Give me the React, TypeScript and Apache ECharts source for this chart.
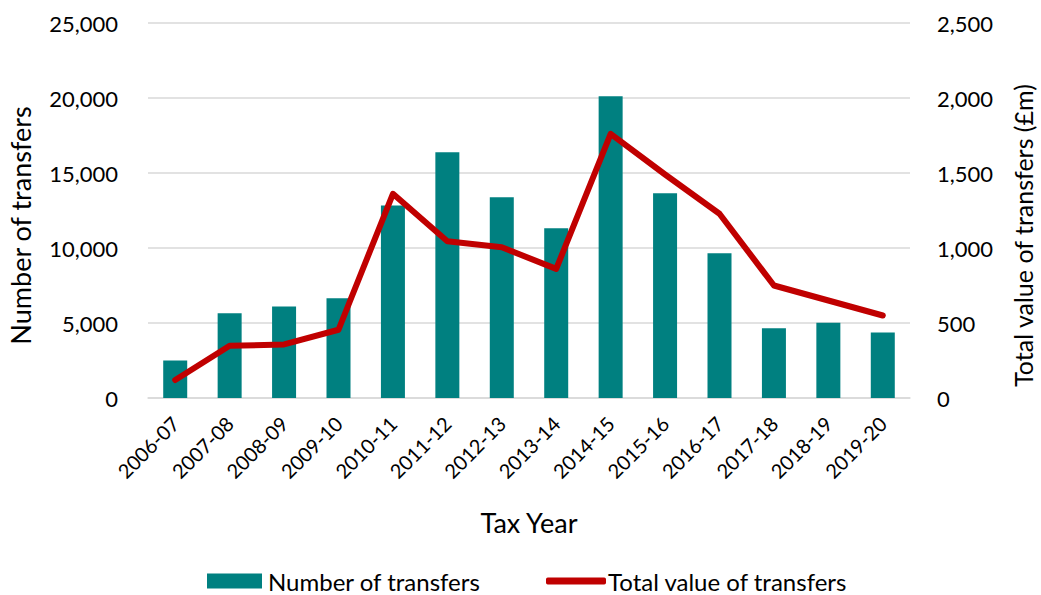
import React, { useEffect, useRef } from "react";
import * as echarts from "echarts";

const categories = ["2006-07","2007-08","2008-09","2009-10","2010-11","2011-12","2012-13","2013-14","2014-15","2015-16","2016-17","2017-18","2018-19","2019-20"];
const numberOfTransfers = [2500, 5650, 6100, 6650, 12830, 16390, 13390, 11320, 20120, 13650, 9650, 4650, 5010, 4370];
const totalValue = [120, 348, 357, 455, 1361, 1045, 1005, 861, 1761, 1490, 1228, 750, 650, 550];
const FONT = "Lato, 'Open Sans', sans-serif";

const fmt = (v: number) => v.toLocaleString("en-GB");

export default function App() {
  const ref = useRef<HTMLDivElement>(null);
  useEffect(() => {
    const chart = echarts.init(ref.current!, undefined, { renderer: "svg" });
    chart.setOption({
      animation: false,
      textStyle: { fontFamily: FONT },
      grid: { left: 148, right: 131, top: 23, bottom: 197, containLabel: false, outerBoundsMode: "none" },
      legend: [
        {
          left: 202,
          top: 563,
          itemWidth: 55,
          itemHeight: 15,
          itemGap: 0,
          textStyle: { fontSize: 24, lineHeight: 26, color: "#000", fontFamily: FONT, padding: [0, 0, 0, 1] },
          data: [{ name: "Number of transfers", icon: "rect" }],
        },
        {
          left: 541,
          top: 563,
          itemWidth: 60,
          itemHeight: 7,
          itemGap: 0,
          textStyle: { fontSize: 24, lineHeight: 26, color: "#000", fontFamily: FONT, padding: [0, 0, 0, -3] },
          data: [{ name: "Total value of transfers", icon: "roundRect" }],
        },
      ],
      xAxis: {
        type: "category",
        data: categories,
        name: "Tax Year",
        nameLocation: "middle",
        nameGap: 111,
        nameTextStyle: { fontSize: 27, color: "#000", fontFamily: FONT },
        axisLine: { show: true, lineStyle: { color: "#d9d9d9", width: 1.5 } },
        axisTick: { show: false },
        axisLabel: { rotate: 45, fontSize: 20, color: "#000", margin: 22, interval: 0, fontFamily: FONT },
      },
      yAxis: [
        {
          type: "value",
          min: 0,
          max: 25000,
          interval: 5000,
          name: "Number of transfers",
          nameLocation: "middle",
          nameGap: 114,
          nameTextStyle: { fontSize: 27, color: "#000", fontFamily: FONT, padding: [0, 30, 0, 0] },
          axisLabel: { fontSize: 22, color: "#000", margin: 30, formatter: fmt, fontFamily: FONT },
          splitLine: { lineStyle: { color: "#d9d9d9", width: 1.5 } },
          axisLine: { show: false },
          axisTick: { show: false },
        },
        {
          type: "value",
          min: 0,
          max: 2500,
          interval: 500,
          name: "Total value of transfers (£m)",
          nameLocation: "middle",
          nameGap: 100,
          nameRotate: 90,
          nameTextStyle: { fontSize: 25, color: "#000", fontFamily: FONT, padding: [0, 50, 0, 0] },
          axisLabel: { fontSize: 22, color: "#000", margin: 27, formatter: fmt, fontFamily: FONT },
          splitLine: { show: false },
          axisLine: { show: false },
          axisTick: { show: false },
        },
      ],
      series: [
        {
          name: "Number of transfers",
          type: "bar",
          data: numberOfTransfers,
          barWidth: 24,
          itemStyle: { color: "#008080" },
          yAxisIndex: 0,
        },
        {
          name: "Total value of transfers",
          type: "line",
          data: totalValue,
          yAxisIndex: 1,
          showSymbol: false,
          symbol: "none",
          lineStyle: { color: "#c00000", width: 6, cap: "round", join: "round" },
          itemStyle: { color: "#c00000" },
        },
      ],
    });
    return () => chart.dispose();
  }, []);
  return <div ref={ref} style={{ width: 1041, height: 595, position: "absolute", left: 0, top: 0 }} />;
}
